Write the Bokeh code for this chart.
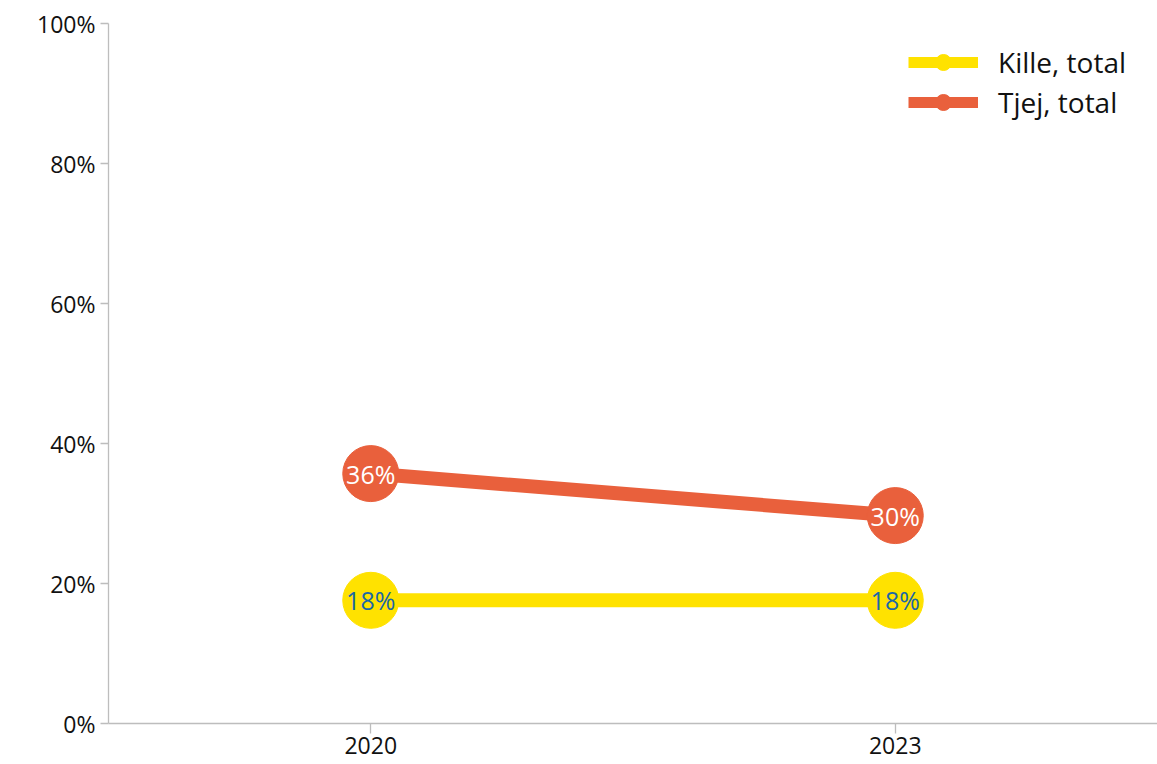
from bokeh.plotting import figure
from bokeh.models import (ColumnDataSource, FactorRange, Range1d, NumeralTickFormatter,
                          Legend, LegendItem, FixedTicker)
from bokeh.embed import file_html
from bokeh.resources import INLINE
from bokeh.core.properties import value

years = ["2020", "2023"]
kille = [0.176, 0.176]
tjej = [0.357, 0.297]
series_names = ["Kille, total", "Tjej, total"]
y_ticks = [0, 0.2, 0.4, 0.6, 0.8, 1.0]

YELLOW = "#FFE200"
ORANGE = "#E9603C"
FONT = "Open Sans"

def pct(vals):
    return [f"{round(v * 100)}%" for v in vals]

src_k = ColumnDataSource(dict(x=years, y=kille, lab=pct(kille)))
src_t = ColumnDataSource(dict(x=years, y=tjej, lab=pct(tjej)))

p = figure(width=1157, height=764, x_range=FactorRange(*years, range_padding=0),
           y_range=Range1d(0, 1), output_backend="svg", toolbar_location=None,
           min_border_left=108, min_border_right=0, min_border_top=23, min_border_bottom=41)
p.outline_line_color = None
p.grid.grid_line_color = None

lk = p.line("x", "y", source=src_k, line_width=14, color=YELLOW)
lt = p.line("x", "y", source=src_t, line_width=14, color=ORANGE)
ck = p.scatter("x", "y", source=src_k, size=56, color=YELLOW)
ct = p.scatter("x", "y", source=src_t, size=56, color=ORANGE)
p.text("x", "y", text="lab", source=src_k, text_align="center", text_baseline="middle",
       text_font=value(FONT), text_font_size="25px", text_color="#1B67A6")
p.text("x", "y", text="lab", source=src_t, text_align="center", text_baseline="middle",
       text_font=value(FONT), text_font_size="25px", text_color="white")

# legend-only swatches (thinner line so the marker shows); NaN values draw nothing in the plot
nan = float("nan")
dummy = ColumnDataSource(dict(x=years, y=[nan, nan]))
gk_line = p.line("x", "y", source=dummy, line_width=11, color=YELLOW)
gk_dot = p.scatter("x", "y", source=dummy, size=20, color=YELLOW)
gt_line = p.line("x", "y", source=dummy, line_width=11, color=ORANGE)
gt_dot = p.scatter("x", "y", source=dummy, size=20, color=ORANGE)

for ax in (p.xaxis[0], p.yaxis[0]):
    ax.axis_line_color = "#BDBDBD"
    ax.major_tick_line_color = "#BDBDBD"
    ax.minor_tick_line_color = None
    ax.major_tick_in = 0
    ax.major_label_text_font = FONT
    ax.major_label_text_font_size = "23px"
    ax.major_label_text_color = "#111111"
    ax.axis_line_width = 1.3
    ax.major_tick_line_width = 1.3

p.yaxis.ticker = FixedTicker(ticks=y_ticks)
p.yaxis.formatter = NumeralTickFormatter(format="0%")
p.yaxis.major_tick_out = 8
p.yaxis.major_label_standoff = 5
p.xaxis.major_tick_out = 10
p.xaxis.major_label_standoff = 3

legend = Legend(items=[LegendItem(label=series_names[0], renderers=[gk_line, gk_dot]),
                       LegendItem(label=series_names[1], renderers=[gt_line, gt_dot])],
                location=(800, 601))
legend.glyph_width = 70
legend.glyph_height = 40
legend.spacing = 0
legend.label_text_font = FONT
legend.label_text_font_size = "28px"
legend.label_text_color = "#111111"
legend.label_standoff = 20
legend.background_fill_alpha = 0
legend.border_line_color = None
legend.margin = 0
legend.padding = 0
p.add_layout(legend)

open("out.html", "w").write(file_html(p, INLINE))
